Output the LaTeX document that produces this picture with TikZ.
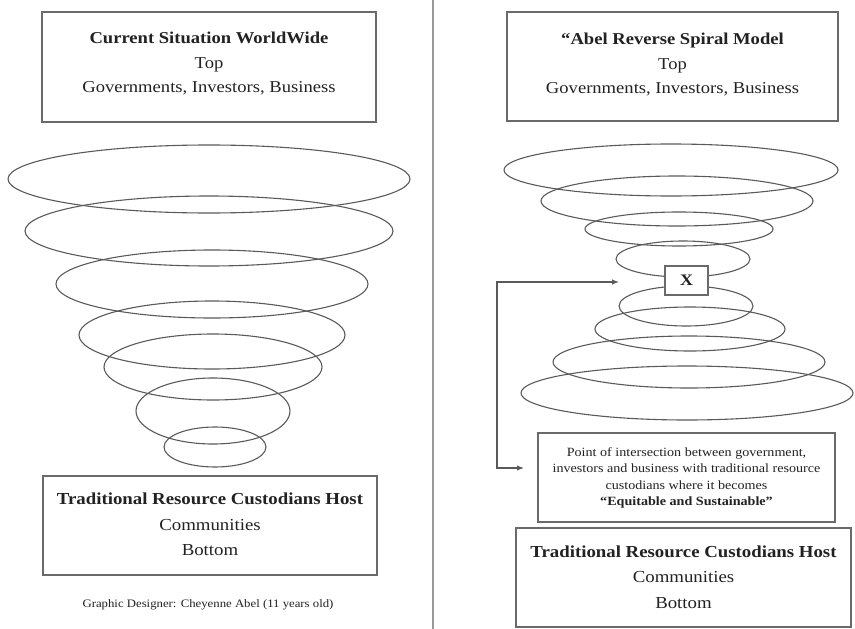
\documentclass[tikz,border=0pt]{standalone}
\usepackage{fontspec}
\setmainfont{Liberation Serif}[FakeStretch=1.12]
\usetikzlibrary{arrows.meta}
\definecolor{linegray}{HTML}{5A5A5A}
\definecolor{boxgray}{HTML}{6A6A6A}
\definecolor{txt}{HTML}{222222}
\tikzset{
  ring/.style={draw=linegray, line width=1.1pt},
  frame/.style={draw=boxgray, line width=1.4pt, fill=white, inner sep=0pt},
  words/.style={align=center, text=txt, inner sep=0pt},
  headfont/.style={font=\fontsize{16.6}{24.5}\selectfont},
  basefont/.style={font=\fontsize{16.8}{25.5}\selectfont},
  notefont/.style={font=\fontsize{12.6}{16.3}\selectfont},
  link/.style={draw=linegray, line width=1.2pt, {Latex[length=7pt,width=5.5pt]}-{Latex[length=7pt,width=5.5pt]}}
}
\begin{document}
\begin{tikzpicture}[x=1pt,y=-1pt]
\useasboundingbox (0,0) rectangle (855,629);
\fill[white] (0,0) rectangle (855,629);
% divider
\draw[draw=gray!80, line width=2.2pt] (433,0) -- (433,629);

% ---------- left panel ----------
\node[frame, minimum width=334pt, minimum height=110pt] (topL) at (209,67) {};
\node[words, headfont] (topLt) at (209,64)
  {\textbf{Current Situation WorldWide}\\Top\\Governments, Investors, Business};

\draw[ring] (209,179) ellipse [x radius=201pt, y radius=34pt];
\draw[ring] (209,231) ellipse [x radius=184pt, y radius=35pt];
\draw[ring] (212,284) ellipse [x radius=156pt, y radius=34pt];
\draw[ring] (212,335) ellipse [x radius=133pt, y radius=34pt];
\draw[ring] (213,367) ellipse [x radius=109pt, y radius=33pt];
\draw[ring] (213,411) ellipse [x radius=77pt, y radius=33pt];
\draw[ring] (215,447) ellipse [x radius=51pt, y radius=20pt];

\node[frame, minimum width=334pt, minimum height=99pt] (botL) at (210,525.5) {};
\node[words, basefont] (botLt) at (210,524.5)
  {\textbf{Traditional Resource Custodians Host}\\Communities\\Bottom};

\node[words, font=\fontsize{11.4}{13}\selectfont] (credit) at (208,605)
  {Graphic Designer: Cheyenne Abel (11 years old)};

% ---------- right panel ----------
\node[frame, minimum width=331pt, minimum height=109pt] (topR) at (672.5,66.5) {};
\node[words, headfont] (topRt) at (672.5,65)
  {\textbf{``Abel Reverse Spiral Model}\\Top\\Governments, Investors, Business};

\draw[ring] (671,170) ellipse [x radius=167pt, y radius=26pt];
\draw[ring] (677,201) ellipse [x radius=136pt, y radius=25pt];
\draw[ring] (679,229) ellipse [x radius=94pt, y radius=17pt];
\draw[ring] (683,259) ellipse [x radius=67pt, y radius=18pt];
\draw[ring] (686,306) ellipse [x radius=67pt, y radius=20pt];
\draw[ring] (690,329) ellipse [x radius=95pt, y radius=22pt];
\draw[ring] (689,362) ellipse [x radius=136pt, y radius=26pt];
\draw[ring] (687,393) ellipse [x radius=166pt, y radius=27pt];

\node[frame, text=txt, font=\fontsize{16}{18}\selectfont\bfseries, minimum width=43pt, minimum height=29pt] (xbox) at (686.5,280.5) {X};

\node[frame, minimum width=297pt, minimum height=89pt] (inter) at (686.5,477.5) {};
\node[words, notefont] (intert) at (686.5,478)
  {Point of intersection between government,\\investors and business with traditional resource\\custodians where it becomes\\\textbf{``Equitable and Sustainable''}};

\node[frame, minimum width=335pt, minimum height=99pt] (botR) at (683.5,577.5) {};
\node[words, basefont] (botRt) at (683.5,577)
  {\textbf{Traditional Resource Custodians Host}\\Communities\\Bottom};

% connector
\coordinate (tipX) at (619,282);
\coordinate (bend) at (497,375);
\coordinate (tipI) at (524,468);
\draw[link] (tipX) -| (bend) |- (tipI);
\end{tikzpicture}
\end{document}
